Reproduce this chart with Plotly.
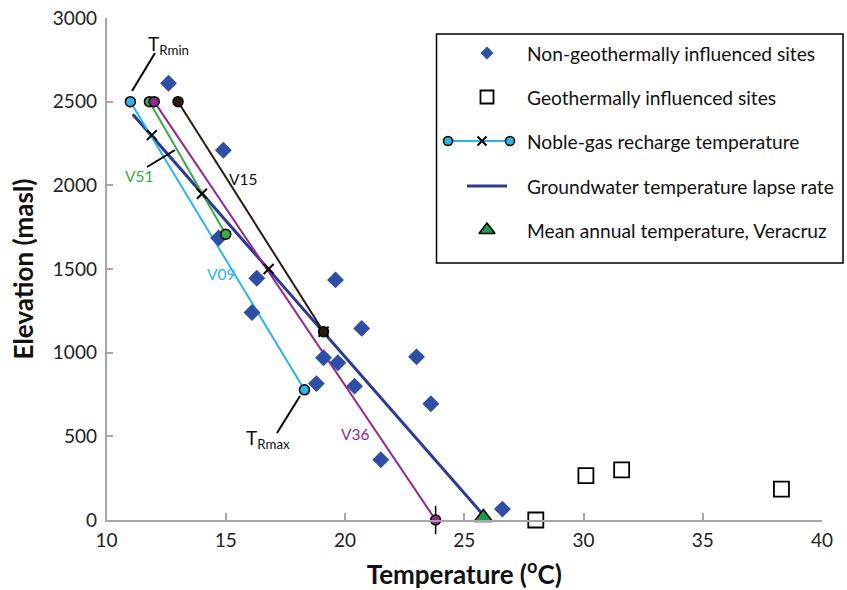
import plotly.graph_objects as go

# ---------------- data ----------------
nongeo_t = [12.6, 14.9, 14.7, 16.3, 19.6, 16.1, 20.7, 23.0, 19.1, 19.7, 18.8, 20.4, 23.6, 21.5, 26.6]
nongeo_z = [2610, 2210, 1685, 1445, 1435, 1240, 1145, 975, 970, 940, 815, 800, 695, 360, 65]

geo_t = [28.0, 30.1, 31.6, 38.3]
geo_z = [0, 265, 300, 185]

v09_t = [11.0, 18.3]
v09_z = [2500, 778]
v51_t = [11.8, 15.0]
v51_z = [2500, 1708]
v36_t = [12.0, 23.8]
v36_z = [2500, 0]
v15_t = [13.0, 19.1]
v15_z = [2500, 1125]

xmark_t = [11.9, 14.0, 16.8, 19.1]
xmark_z = [2300, 1950, 1500, 1125]

lapse_t = [11.1, 25.8]
lapse_z = [2425, 30]

mat_t = [25.8]
mat_z = [15]

x_ticks = [10, 15, 20, 25, 30, 35, 40]
y_ticks = [0, 500, 1000, 1500, 2000, 2500, 3000]

legend_labels = [
    "Non-geothermally influenced sites",
    "Geothermally influenced sites",
    "Noble-gas recharge temperature",
    "Groundwater temperature lapse rate",
    "Mean annual temperature, Veracruz",
]

# ---------------- colours ----------------
C_DIAMOND = "#2f4ea6"
C_LAPSE = "#2d3a92"
C_CYAN = "#2bb5e6"
C_GREEN = "#3aa948"
C_PURPLE = "#93278f"
C_V15 = "#2a1a12"
C_TRI = "#1f9a4a"
FONT = "Lato"

W, H = 847, 590
PX_L, PX_R, PX_T, PX_B = 106.5, 822, 18, 520

fig = go.Figure()

# lapse rate line
fig.add_trace(go.Scatter(x=lapse_t, y=lapse_z, mode="lines",
                         line=dict(color=C_LAPSE, width=3), cliponaxis=False))

# recharge lines
for t, z, c in [(v09_t, v09_z, C_CYAN), (v51_t, v51_z, C_GREEN),
                (v36_t, v36_z, C_PURPLE), (v15_t, v15_z, C_V15)]:
    fig.add_trace(go.Scatter(x=t, y=z, mode="lines",
                             line=dict(color=c, width=2), cliponaxis=False))

# diamonds
fig.add_trace(go.Scatter(x=nongeo_t, y=nongeo_z, mode="markers",
                         marker=dict(symbol="diamond", size=13, color=C_DIAMOND,
                                     line=dict(width=0)), cliponaxis=False))

# x markers
fig.add_trace(go.Scatter(x=xmark_t, y=xmark_z, mode="markers",
                         marker=dict(symbol="x-thin", size=10,
                                     line=dict(color="black", width=2)), cliponaxis=False))

# vertical tick at V36 end
fig.add_trace(go.Scatter(x=[v36_t[1]], y=[v36_z[1]], mode="markers",
                         marker=dict(symbol="line-ns", size=20,
                                     line=dict(color="black", width=1.5)), cliponaxis=False))

# endpoint circles
for t, z, c in [(v09_t, v09_z, C_CYAN), (v51_t, v51_z, C_GREEN),
                (v36_t, v36_z, C_PURPLE), (v15_t, v15_z, C_V15)]:
    fig.add_trace(go.Scatter(x=t, y=z, mode="markers",
                             marker=dict(symbol="circle", size=10, color=c,
                                         line=dict(color="black", width=1.5)), cliponaxis=False))

# geothermal squares
fig.add_trace(go.Scatter(x=geo_t, y=geo_z, mode="markers",
                         marker=dict(symbol="square", size=15, color="white",
                                     line=dict(color="black", width=1.8)), cliponaxis=False))

# mean annual temperature
fig.add_trace(go.Scatter(x=mat_t, y=mat_z, mode="markers",
                         marker=dict(symbol="triangle-up", size=16, color=C_TRI,
                                     line=dict(color="black", width=1.5)), cliponaxis=False))

# ---------------- overlay (pixel) layer for legend & annotations ----------------
leg_y = [53, 97, 141, 186, 230]
mx = 487
fig.add_trace(go.Scatter(x=[mx], y=[leg_y[0]], xaxis="x2", yaxis="y2", mode="markers",
                         marker=dict(symbol="diamond", size=10, color=C_DIAMOND)))
fig.add_trace(go.Scatter(x=[mx], y=[leg_y[1]], xaxis="x2", yaxis="y2", mode="markers",
                         marker=dict(symbol="square", size=13, color="white",
                                     line=dict(color="black", width=1.8))))
fig.add_trace(go.Scatter(x=[448, 510], y=[leg_y[2], leg_y[2]], xaxis="x2", yaxis="y2",
                         mode="lines+markers", line=dict(color=C_CYAN, width=2),
                         marker=dict(symbol="circle", size=9, color=C_CYAN,
                                     line=dict(color="black", width=1.5))))
fig.add_trace(go.Scatter(x=[482], y=[leg_y[2]], xaxis="x2", yaxis="y2", mode="markers",
                         marker=dict(symbol="x-thin", size=9, line=dict(color="black", width=2))))
fig.add_trace(go.Scatter(x=[467, 507], y=[leg_y[3], leg_y[3]], xaxis="x2", yaxis="y2",
                         mode="lines", line=dict(color=C_LAPSE, width=3)))
fig.add_trace(go.Scatter(x=[mx], y=[leg_y[4]], xaxis="x2", yaxis="y2", mode="markers",
                         marker=dict(symbol="triangle-up", size=14, color=C_TRI,
                                     line=dict(color="black", width=1.5))))

annotations = []
for lab_text, yy in zip(legend_labels, leg_y):
    annotations.append(dict(x=525, y=yy, xref="x2", yref="y2", text=lab_text, showarrow=False,
                            xanchor="left", yanchor="middle",
                            font=dict(family=FONT, size=19.2, color="#111")))

# in-plot labels
def lab(x, y, text, color, size=15.5):
    annotations.append(dict(x=x, y=y, xref="x2", yref="y2", text=text, showarrow=False,
                            xanchor="center", yanchor="middle",
                            font=dict(family=FONT, size=size, color=color)))

lab(168, 45, "T<sub>Rmin</sub>", "#111", 19)
lab(139, 176, "V51", C_GREEN)
lab(243, 179, "V15", "#111")
lab(221, 274, "V09", C_CYAN)
lab(268, 439, "T<sub>Rmax</sub>", "#111", 19)
lab(355, 434, "V36", C_PURPLE)

shapes = [
    dict(type="rect", xref="x2", yref="y2", x0=436.5, y0=34, x1=843, y1=263,
         line=dict(color="black", width=1.5), fillcolor="rgba(0,0,0,0)"),
    dict(type="line", xref="x2", yref="y2", x0=155, y0=53, x1=132, y1=91,
         line=dict(color="black", width=2)),
    dict(type="line", xref="x2", yref="y2", x0=147, y0=167, x1=175, y1=150,
         line=dict(color="black", width=2)),
    dict(type="line", xref="x2", yref="y2", x0=277, y0=433, x1=300, y1=396,
         line=dict(color="black", width=2)),
]

fig.update_layout(
    width=W, height=H,
    margin=dict(l=0, r=0, t=0, b=0),
    paper_bgcolor="white", plot_bgcolor="rgba(0,0,0,0)",
    showlegend=False,
    font=dict(family=FONT, color="#222"),
    xaxis=dict(domain=[PX_L / W, PX_R / W], range=[10, 40], tickvals=x_ticks,
               showgrid=False, zeroline=False, showline=True, linecolor="#a6a6a6",
               linewidth=1.5, ticks="inside", ticklen=7, tickcolor="#a6a6a6", tickwidth=1.5,
               tickfont=dict(family=FONT, size=19, color="#222"), automargin=False,
               ticklabelstandoff=2,
               title=dict(text="<b>Temperature (<sup>o</sup>C)</b>", standoff=16,
                          font=dict(family=FONT, size=26, color="#111"))),
    yaxis=dict(domain=[1 - PX_B / H, 1 - PX_T / H], range=[0, 3000], tickvals=y_ticks,
               showgrid=False, zeroline=False, showline=True, linecolor="#a6a6a6",
               linewidth=1.5, ticks="inside", ticklen=7, tickcolor="#a6a6a6", tickwidth=1.5,
               tickfont=dict(family=FONT, size=19, color="#222"), automargin=False,
               ticklabelstandoff=4,
               title=dict(text="<b>Elevation (masl)</b>", standoff=12,
                          font=dict(family=FONT, size=26, color="#111"))),
    xaxis2=dict(domain=[0, 1], range=[0, W], visible=False, anchor="y2", fixedrange=True),
    yaxis2=dict(domain=[0, 1], range=[H, 0], visible=False, anchor="x2", fixedrange=True),
    annotations=annotations,
    shapes=shapes,
)

fig.write_html("out.html")
